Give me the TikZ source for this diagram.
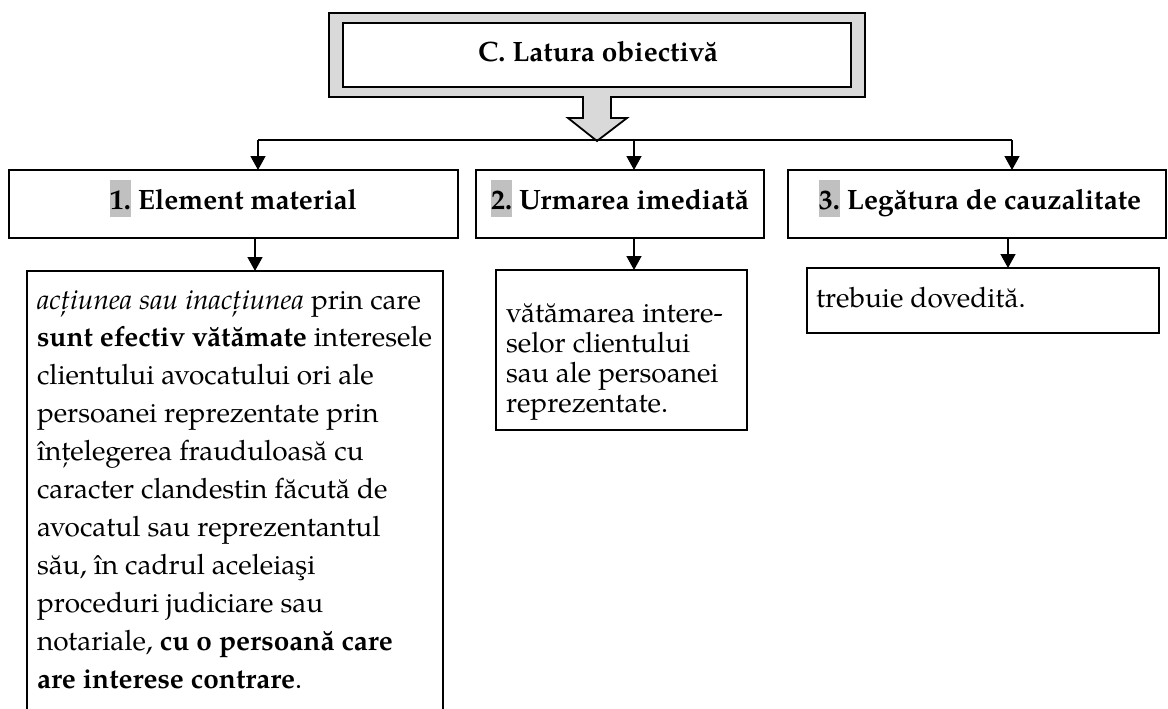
\documentclass[tikz,border=0pt]{standalone}
\usepackage{fontspec}
\setmainfont{TeX Gyre Pagella}
\usetikzlibrary{arrows.meta,calc}
\definecolor{framegray}{HTML}{D9D9D9}
\definecolor{hlgray}{HTML}{C0C0C0}
\newcommand{\hlnum}[1]{{\setlength{\fboxsep}{0pt}\colorbox{hlgray}{\rule[-8pt]{0pt}{37pt}#1}}}
\tikzset{
  every node/.style={inner sep=0pt, outer sep=0pt},
  box/.style={draw, line width=1.8pt, anchor=north west},
  arr/.style={line width=1.5pt, -{Triangle[width=15pt,length=14pt]}},
  conn/.style={line width=1.5pt},
  hdr/.style={font=\fontsize{28}{34}\selectfont\bfseries, anchor=base},
  bodyA/.style={font=\fontsize{28}{37.9}\selectfont, anchor=north west, align=left},
  bodyB/.style={font=\fontsize{28}{30.3}\selectfont, anchor=north west, align=left},
}
\begin{document}
\begin{tikzpicture}[x=1pt,y=-1pt]
\clip (0,0) rectangle (1168,709);
\fill[white] (0,0) rectangle (1168,709);

% top block with frame and block arrow
\path[fill=framegray, draw=black, line width=1.8pt, line join=miter]
  (329,13) -- (865,13) -- (865,97) -- (611,97) -- (611,118) -- (627,118)
  -- (597,141) -- (568,118) -- (583,118) -- (583,97) -- (329,97) -- cycle;
\node[box, fill=white, minimum width=508pt, minimum height=64pt] (topbox) at (343,23) {};
\node[hdr] (toptext) at (598,62) {C. Latura obiectivă};

% headers
\node[box, minimum width=449pt, minimum height=68pt] (h1) at (9,170) {};
\node[box, minimum width=288pt, minimum height=68pt] (h2) at (476,170) {};
\node[box, minimum width=378pt, minimum height=68pt] (h3) at (788,170) {};
\node[hdr] (h1t) at (233.5,209) {\hlnum{1.} Element material};
\node[hdr] (h2t) at (620,209) {\hlnum{2.} Urmarea imediată};
\node[hdr] (h3t) at (980,209) {\hlnum{3.} Legătura de cauzalitate};

% text boxes
\node[box, minimum width=416pt, minimum height=500pt] (t1) at (27,271) {};
\node[box, minimum width=251pt, minimum height=160pt] (t2) at (496,270) {};
\node[box, minimum width=352pt, minimum height=65pt] (t3) at (807,268) {};

\node[bodyA] (b1) at (37,282.5) {\strut\textit{acțiunea sau inacțiunea} prin care\\
\textbf{sunt efectiv vătămate} interesele\\
clientului avocatului ori ale\\
persoanei reprezentate prin\\
înțelegerea frauduloasă cu\\
caracter clandestin făcută de\\
avocatul sau reprezentantul\\
său, în cadrul aceleiaşi\\
proceduri judiciare sau\\
notariale, \textbf{cu o persoană care}\\
\textbf{are interese contrare}.};
\node[bodyB] (b2) at (506,300.8) {\strut vătămarea intere-\\
selor clientului\\
sau ale persoanei\\
reprezentate.};
\node[bodyB] (b3) at (816,285.8) {\strut trebuie dovedită.};

% connectors
\coordinate (bus1) at (258,140);
\coordinate (bus2) at (634,140);
\coordinate (bus3) at (1012,140);
\coordinate (a1) at (255,0);
\coordinate (a2) at (634,0);
\coordinate (a3) at (1008,0);
\draw[conn] (bus1) -- (bus3);
\draw[arr] (bus1) -- (bus1 |- h1.north);
\draw[arr] (bus2) -- (bus2 |- h2.north);
\draw[arr] (bus3) -- (bus3 |- h3.north);
\draw[arr] (h1.south -| a1) -- (t1.north -| a1);
\draw[arr] (h2.south -| a2) -- (t2.north -| a2);
\draw[arr] (h3.south -| a3) -- (t3.north -| a3);
\end{tikzpicture}
\end{document}
